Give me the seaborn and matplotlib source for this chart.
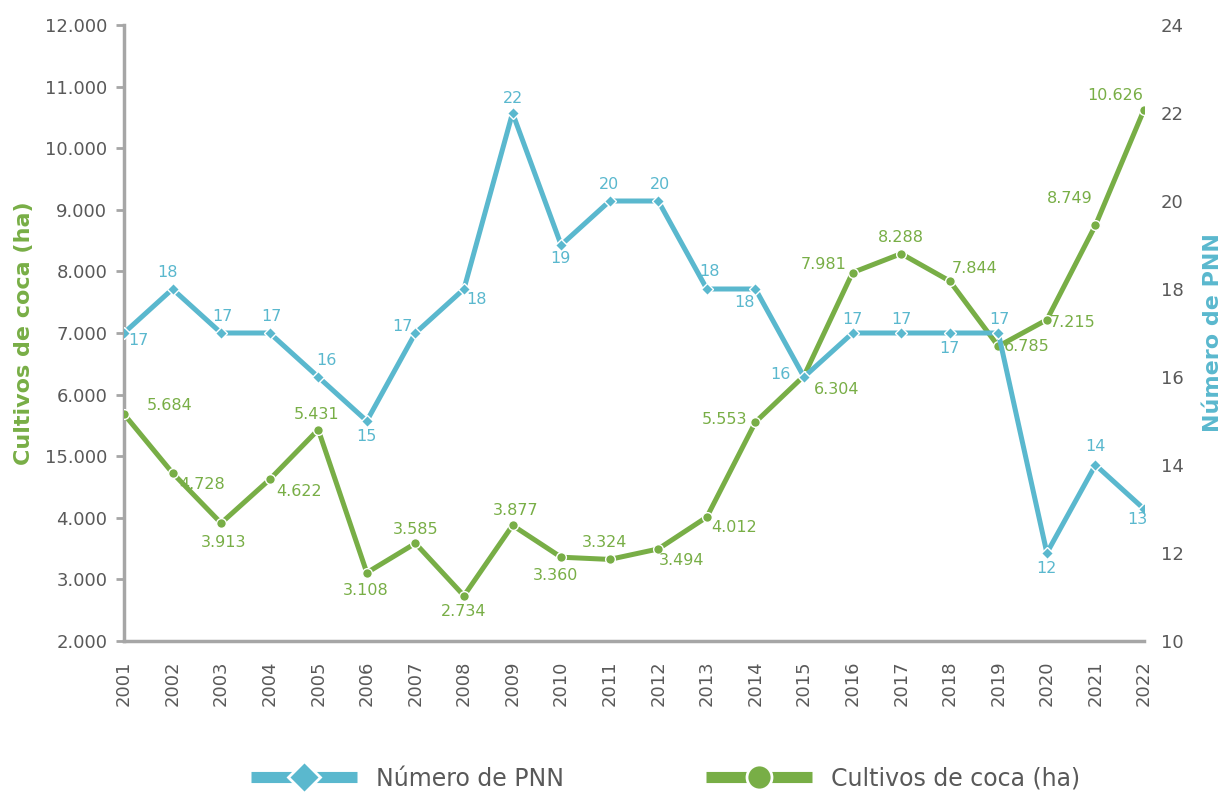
import matplotlib
matplotlib.use("Agg")
import matplotlib.pyplot as plt
from matplotlib.lines import Line2D
import seaborn as sns
import pandas as pd

# Data
years = list(range(2001, 2023))
coca_ha = [5684, 4728, 3913, 4622, 5431, 3108, 3585, 2734, 3877, 3360, 3324,
           3494, 4012, 5553, 6304, 7981, 8288, 7844, 6785, 7215, 8749, 10626]
pnn = [17, 18, 17, 17, 16, 15, 17, 18, 22, 19, 20, 20, 18, 18, 16, 17, 17, 17,
       17, 12, 14, 13]
left_ticks = [2000, 3000, 4000, 5000, 6000, 7000, 8000, 9000, 10000, 11000, 12000]
# the original chart shows "15.000" at the 5000 tick, kept as is
left_ticklabels = ["2.000", "3.000", "4.000", "15.000", "6.000", "7.000", "8.000",
                   "9.000", "10.000", "11.000", "12.000"]
right_ticks = [10, 12, 14, 16, 18, 20, 22, 24]

df = pd.DataFrame({"year": years, "coca": coca_ha, "pnn": pnn})

GREEN = "#78AE46"
BLUE = "#5AB8CE"
GRAY = "#A6A6A6"
TXT = "#595959"

# label offsets (pixels) for data labels
coca_off = [(46, 9), (30, -12), (2, -19), (29, -12), (-2, 15), (-1, -18), (0, 14),
            (0, -16), (3, 15), (-6, -18), (-5, 17), (23, -12), (27, -10), (-31, 3),
            (33, -14), (-29, 8), (0, 16), (25, 13), (28, 0), (26, -3), (-26, 27),
            (-29, 14)]
pnn_off = [(14, -8), (-5, 17), (1, 16), (2, 16), (8, 16), (0, -16), (-13, 6),
           (13, -10), (0, 15), (-1, -13), (-1, 17), (2, 17), (3, 18), (-11, -13),
           (-24, 2), (0, 13), (0, 13), (0, -16), (1, 13), (0, -16), (0, 18), (-7, -11)]

sns.set_style("white")
plt.rcParams['font.family'] = ['DejaVu Sans']

fig = plt.figure(figsize=(12.32, 7.92), dpi=100)
ax = fig.add_axes([0.1006, 0.1907, 0.8280, 0.7777])
ax2 = ax.twinx()

sns.lineplot(data=df, x="year", y="coca", ax=ax, color=GREEN, linewidth=3.6,
             marker="o", markersize=7, markeredgecolor="white", markeredgewidth=1,
             zorder=3)
sns.lineplot(data=df, x="year", y="pnn", ax=ax2, color=BLUE, linewidth=3.6,
             marker="D", markersize=6, markeredgecolor="white", markeredgewidth=1,
             zorder=3)

for x, y, off in zip(years, coca_ha, coca_off):
    ax.annotate(f"{y:,}".replace(",", "."), (x, y), xytext=off,
                textcoords="offset pixels", ha="center", va="center",
                fontsize=11.5, color=GREEN)
for x, y, off in zip(years, pnn, pnn_off):
    ax2.annotate(str(y), (x, y), xytext=off, textcoords="offset pixels",
                 ha="center", va="center", fontsize=11.5, color=BLUE)

ax.set_xlim(2001, 2022)
ax.set_ylim(2000, 12000)
ax2.set_ylim(10, 24)

ax.set_xticks(years)
ax.set_xticklabels([str(y) for y in years], rotation=90, fontsize=13, color=TXT)
ax.set_yticks(left_ticks)
ax.set_yticklabels(left_ticklabels, fontsize=13, color=TXT)
ax2.set_yticks(right_ticks)
ax2.set_yticklabels([str(t) for t in right_ticks], fontsize=13, color=TXT)

ax.tick_params(axis="both", direction="out", length=6, width=2, color=GRAY, pad=6)
ax.tick_params(axis="x", pad=8)
ax2.tick_params(axis="y", length=0, pad=12)

for a in (ax, ax2):
    a.spines["top"].set_visible(False)
    a.spines["right"].set_visible(False)
ax2.spines["left"].set_visible(False)
ax2.spines["bottom"].set_visible(False)
ax.spines["left"].set_color(GRAY)
ax.spines["bottom"].set_color(GRAY)
ax.spines["left"].set_linewidth(2.5)
ax.spines["bottom"].set_linewidth(2.5)

ax.set_xlabel("")
ax.set_ylabel("Cultivos de coca (ha)", fontsize=16, fontweight="bold", color=GREEN,
              labelpad=8)
ax2.set_ylabel("Número de PNN", fontsize=16, fontweight="bold", color=BLUE,
               labelpad=14)

handles = [
    Line2D([], [], color=BLUE, linewidth=8, marker="D", markersize=16,
           markeredgecolor="white", markeredgewidth=2, solid_capstyle="butt"),
    Line2D([], [], color=GREEN, linewidth=8, marker="o", markersize=18,
           markeredgecolor="white", markeredgewidth=2, solid_capstyle="butt"),
]
fig.legend(handles, ["Número de PNN", "Cultivos de coca (ha)"], loc="center",
           bbox_to_anchor=(0.54, 0.017), ncol=2, frameon=False, fontsize=17,
           handlelength=4.5, columnspacing=6, labelcolor=TXT)

fig.savefig("out.png", dpi=100)
